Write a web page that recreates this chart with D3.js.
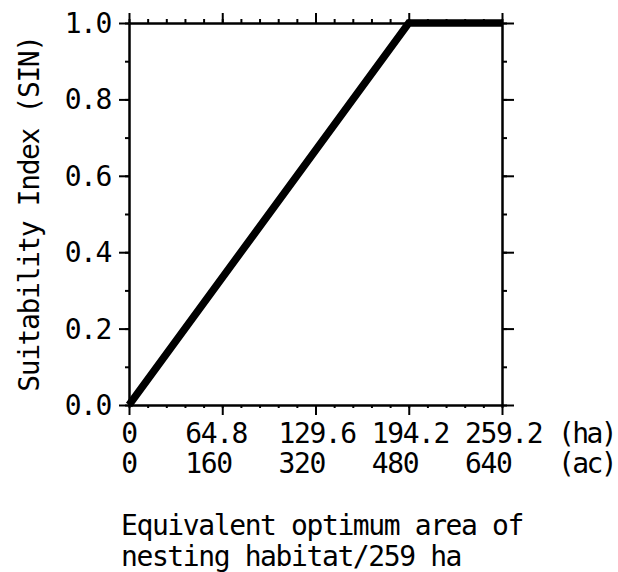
<!DOCTYPE html>
<html>
<head>
<meta charset="utf-8">
<script src="https://cdn.jsdelivr.net/npm/d3@7"></script>
<style>
  body { margin: 0; background: #fff; }
  svg text { font-family: "DejaVu Sans Mono", monospace; font-size: 28px; letter-spacing: -1.4px; fill: #000; }
  svg text.unit { letter-spacing: -2.6px; }
  .axis path, .axis line { stroke: #000; stroke-width: 2px; }
</style>
</head>
<body>
<svg width="618" height="572"></svg>
<script>
// data
var acres = [0, 480, 640];
var sin = [0, 1.0, 1.0];

var acTicks = [0, 160, 320, 480, 640];
var haLabels = ["0", "64.8", "129.6", "194.2", "259.2"];
var acLabels = ["0", "160", "320", "480", "640"];
var yTicks = [0, 0.2, 0.4, 0.6, 0.8, 1.0];
var yLabels = ["0.0", "0.2", "0.4", "0.6", "0.8", "1.0"];

var svg = d3.select("svg");

var x = d3.scaleLinear().domain([0, 640]).range([129, 502]);
var y = d3.scaleLinear().domain([0, 1]).range([405, 23]);

var minorX = d3.range(0, 641, 32);
var minorY = d3.range(0, 1.01, 0.1);

function addAxis(ax, tx, ty) {
  var g = svg.append("g").attr("class", "axis")
    .attr("transform", "translate(" + tx + "," + ty + ")")
    .call(ax);
  g.selectAll("text").remove();
  return g;
}

// minor ticks
addAxis(d3.axisTop(x).tickValues(minorX).tickSize(4).tickSizeOuter(0), 0, y(1));
addAxis(d3.axisBottom(x).tickValues(minorX).tickSize(3).tickSizeOuter(0), 0, y(0));
addAxis(d3.axisLeft(y).tickValues(minorY).tickSize(4).tickSizeOuter(0), x(0), 0);
addAxis(d3.axisRight(y).tickValues(minorY).tickSize(5).tickSizeOuter(0), x(640), 0);

// major ticks
addAxis(d3.axisTop(x).tickValues(acTicks).tickSize(10).tickSizeOuter(0), 0, y(1));
addAxis(d3.axisBottom(x).tickValues(acTicks).tickSize(10).tickSizeOuter(0), 0, y(0));
addAxis(d3.axisLeft(y).tickValues(yTicks).tickSize(10).tickSizeOuter(0), x(0), 0);
addAxis(d3.axisRight(y).tickValues(yTicks).tickSize(12).tickSizeOuter(0), x(640), 0);

// y tick labels
svg.append("g").selectAll("text")
  .data(yTicks)
  .enter().append("text")
  .attr("x", 111)
  .attr("y", function(d) { return y(d); })
  .attr("dy", "0.36em")
  .attr("text-anchor", "end")
  .text(function(d, i) { return yLabels[i]; });

// x tick labels, typewriter style (left aligned columns)
function xLabelX(d) { return d === 0 ? x(d) : x(d) - 37; }
svg.append("g").selectAll("text")
  .data(acTicks)
  .enter().append("text")
  .attr("x", xLabelX)
  .attr("y", 443)
  .attr("text-anchor", function(d) { return d === 0 ? "middle" : "start"; })
  .text(function(d, i) { return haLabels[i]; });
svg.append("g").selectAll("text")
  .data(acTicks)
  .enter().append("text")
  .attr("x", xLabelX)
  .attr("y", 473)
  .attr("text-anchor", function(d) { return d === 0 ? "middle" : "start"; })
  .text(function(d, i) { return acLabels[i]; });

svg.append("text").attr("class", "unit").attr("x", x(640) + 56).attr("y", 443).text("(ha)");
svg.append("text").attr("class", "unit").attr("x", x(640) + 56).attr("y", 473).text("(ac)");

// axis titles
svg.append("text")
  .attr("transform", "translate(39," + (y(0.5)) + ") rotate(-90)")
  .attr("text-anchor", "middle")
  .text("Suitability Index (SIN)");

svg.append("text").attr("x", 121).attr("y", 535).text("Equivalent optimum area of");
svg.append("text").attr("x", 121).attr("y", 566).text("nesting habitat/259 ha");

// the curve
var line = d3.line()
  .x(function(d) { return x(d[0]); })
  .y(function(d) { return y(d[1]); });

svg.append("path")
  .datum(d3.zip(acres, sin))
  .attr("d", line)
  .attr("fill", "none")
  .attr("stroke", "#000")
  .attr("stroke-width", 7.5)
  .attr("stroke-linejoin", "miter");
</script>
</body>
</html>
